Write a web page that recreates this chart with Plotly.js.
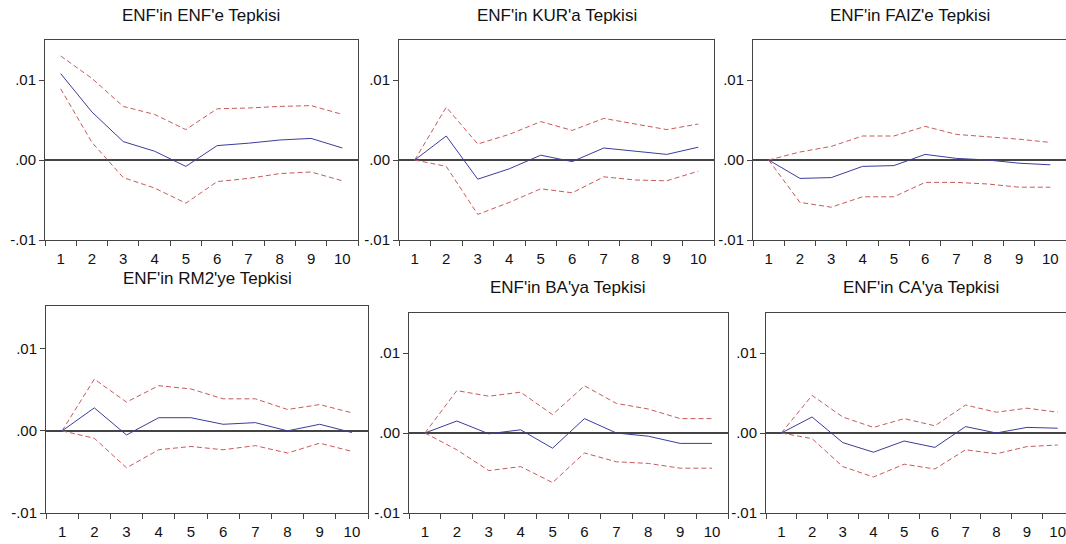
<!DOCTYPE html>
<html>
<head>
<meta charset="utf-8">
<script src="https://cdn.plot.ly/plotly-3.0.1.min.js"></script>
<style>html,body{margin:0;padding:0;background:#fff;}#chart{width:1066px;height:544px;}</style>
</head>
<body>
<div id="chart"></div>
<script>
// Horizons
const periods = [1,2,3,4,5,6,7,8,9,10];
// Tick marks between periods
const periodEdges = [0.5,1.5,2.5,3.5,4.5,5.5,6.5,7.5,8.5,9.5,10.5];

// Panel titles
const titles = [
  "ENF'in ENF'e Tepkisi",
  "ENF'in KUR'a Tepkisi",
  "ENF'in FAIZ'e Tepkisi",
  "ENF'in RM2'ye Tepkisi",
  "ENF'in BA'ya Tepkisi",
  "ENF'in CA'ya Tepkisi"
];

// ENF -> ENF
const enfResp   = [0.0108, 0.0060, 0.0023, 0.0011, -0.0008, 0.0018, 0.0021, 0.0025, 0.0027, 0.0015];
const enfUpper  = [0.0130, 0.0102, 0.0067, 0.0057, 0.0038, 0.0064, 0.0065, 0.0067, 0.0068, 0.0057];
const enfLower  = [0.0089, 0.0022, -0.0022, -0.0035, -0.0054, -0.0027, -0.0023, -0.0017, -0.0015, -0.0026];

// ENF -> KUR
const kurResp   = [0, 0.0030, -0.0024, -0.0011, 0.0006, -0.0002, 0.0015, 0.0011, 0.0007, 0.0016];
const kurUpper  = [0, 0.0066, 0.0020, 0.0032, 0.0048, 0.0037, 0.0052, 0.0045, 0.0038, 0.0045];
const kurLower  = [0, -0.0008, -0.0068, -0.0053, -0.0036, -0.0041, -0.0021, -0.0025, -0.0026, -0.0014];

// ENF -> FAIZ
const faizResp  = [0, -0.0023, -0.0022, -0.0008, -0.0007, 0.0007, 0.0002, 0.0000, -0.0004, -0.0006];
const faizUpper = [0, 0.0010, 0.0017, 0.0030, 0.0030, 0.0042, 0.0032, 0.0029, 0.0026, 0.0022];
const faizLower = [0, -0.0053, -0.0059, -0.0046, -0.0046, -0.0028, -0.0028, -0.0030, -0.0034, -0.0034];

// ENF -> RM2
const rm2Resp   = [0, 0.0028, -0.0005, 0.0016, 0.0016, 0.0008, 0.0010, 0.0000, 0.0008, -0.0002];
const rm2Upper  = [0, 0.0063, 0.0035, 0.0055, 0.0051, 0.0039, 0.0039, 0.0026, 0.0032, 0.0022];
const rm2Lower  = [0, -0.0009, -0.0045, -0.0023, -0.0019, -0.0023, -0.0018, -0.0027, -0.0015, -0.0025];

// ENF -> BA
const baResp    = [0, 0.0015, -0.0001, 0.0004, -0.0019, 0.0018, 0.0000, -0.0004, -0.0013, -0.0013];
const baUpper   = [0, 0.0053, 0.0046, 0.0051, 0.0023, 0.0059, 0.0037, 0.0030, 0.0018, 0.0018];
const baLower   = [0, -0.0021, -0.0047, -0.0042, -0.0062, -0.0025, -0.0036, -0.0038, -0.0044, -0.0044];

// ENF -> CA
const caResp    = [0, 0.0020, -0.0012, -0.0024, -0.0010, -0.0018, 0.0008, 0.0000, 0.0007, 0.0006];
const caUpper   = [0, 0.0047, 0.0020, 0.0007, 0.0018, 0.0009, 0.0035, 0.0026, 0.0031, 0.0026];
const caLower   = [0, -0.0007, -0.0042, -0.0055, -0.0039, -0.0045, -0.0021, -0.0026, -0.0017, -0.0015];

// Y tick labels
const yTickVals = [-0.01, 0, 0.01];
const yTickText = ["-.01", ".00", ".01"];

const panels = [
  {resp: enfResp,  up: enfUpper,  lo: enfLower},
  {resp: kurResp,  up: kurUpper,  lo: kurLower},
  {resp: faizResp, up: faizUpper, lo: faizLower},
  {resp: rm2Resp,  up: rm2Upper,  lo: rm2Lower},
  {resp: baResp,   up: baUpper,   lo: baLower},
  {resp: caResp,   up: caUpper,   lo: caLower}
];

// Layout geometry (pixels)
const W = 1066, H = 544;
const geom = [
  {x0: 45,  x1: 358,  y0: 40,  y1: 240, xr: [0.5, 10.5],  yr: [-0.01, 0.015],  tx: 201, ty: 15},
  {x0: 399, x1: 714,  y0: 40,  y1: 240, xr: [0.5, 10.5],  yr: [-0.01, 0.015],  tx: 557, ty: 15},
  {x0: 753, x1: 1066, y0: 40,  y1: 240, xr: [0.5, 10.5],  yr: [-0.01, 0.015],  tx: 910, ty: 15},
  {x0: 46,  x1: 368,  y0: 306, y1: 513, xr: [0.5, 10.5],  yr: [-0.01, 0.0152], tx: 207, ty: 278},
  {x0: 409, x1: 728,  y0: 313, y1: 513, xr: [0.5, 10.5],  yr: [-0.01, 0.015],  tx: 567, ty: 287},
  {x0: 766, x1: 1066, y0: 313, y1: 513, xr: [0.5, 10.27], yr: [-0.01, 0.015],  tx: 921, ty: 287}
];

const blue = '#3c3c9c';
const red = '#c85a5a';
const axisCol = '#444';
const font = {family: 'Liberation Sans, Arial, sans-serif', size: 15, color: '#111'};

const data = [];
const layout = {
  width: W, height: H,
  margin: {l: 0, r: 0, t: 0, b: 0},
  paper_bgcolor: '#fff', plot_bgcolor: '#fff',
  showlegend: false,
  font: font,
  annotations: []
};

panels.forEach((p, i) => {
  const n = i + 1;
  const xa = n === 1 ? 'x' : 'x' + n;
  const ya = n === 1 ? 'y' : 'y' + n;
  const g = geom[i];
  data.push({x: periods, y: p.up, xaxis: xa, yaxis: ya, mode: 'lines', line: {color: red, width: 1, dash: '5px,3px'}});
  data.push({x: periods, y: p.lo, xaxis: xa, yaxis: ya, mode: 'lines', line: {color: red, width: 1, dash: '5px,3px'}});
  data.push({x: periods, y: p.resp, xaxis: xa, yaxis: ya, mode: 'lines', line: {color: blue, width: 1}});
  const xKey = n === 1 ? 'xaxis' : 'xaxis' + n;
  const yKey = n === 1 ? 'yaxis' : 'yaxis' + n;
  layout[xKey] = {
    domain: [g.x0 / W, g.x1 / W],
    anchor: ya,
    range: g.xr,
    tickmode: 'array', tickvals: periods, ticktext: periods.map(String),
    ticks: 'outside', ticklen: 5, tickcolor: 'rgba(0,0,0,0)',
    ticklabeloverflow: 'allow',
    showgrid: false, zeroline: false,
    showline: true, linecolor: axisCol, linewidth: 1, mirror: true,
    tickfont: font, fixedrange: true
  };
  // overlay axis carrying the tick marks between periods
  const tn = n + 6;
  layout['xaxis' + tn] = {
    domain: [g.x0 / W, g.x1 / W],
    overlaying: xa,
    anchor: ya,
    side: 'bottom',
    range: g.xr,
    tickmode: 'array', tickvals: periodEdges, showticklabels: false,
    ticks: 'outside', ticklen: 5, tickcolor: axisCol, tickwidth: 1,
    showgrid: false, zeroline: false, showline: false, fixedrange: true
  };
  data.push({x: [g.xr[0]], y: [0], xaxis: 'x' + tn, yaxis: ya, mode: 'lines', hoverinfo: 'skip', line: {width: 0}, showlegend: false});
  layout[yKey] = {
    domain: [1 - g.y1 / H, 1 - g.y0 / H],
    anchor: xa,
    range: g.yr,
    tickmode: 'array', tickvals: yTickVals, ticktext: yTickText,
    ticks: 'outside', ticklen: 5, tickcolor: axisCol, tickwidth: 1,
    showgrid: false,
    zeroline: true, zerolinecolor: '#444', zerolinewidth: 1.4,
    showline: true, linecolor: axisCol, linewidth: 1, mirror: true,
    tickfont: font, fixedrange: true
  };
  layout.annotations.push({
    text: titles[i], xref: 'paper', yref: 'paper',
    x: g.tx / W, y: 1 - g.ty / H, xanchor: 'center', yanchor: 'middle',
    showarrow: false, font: {family: 'Liberation Sans, Arial, sans-serif', size: 17, color: '#111'}
  });
});

Plotly.newPlot('chart', data, layout, {displayModeBar: false, staticPlot: true});
</script>
</body>
</html>
